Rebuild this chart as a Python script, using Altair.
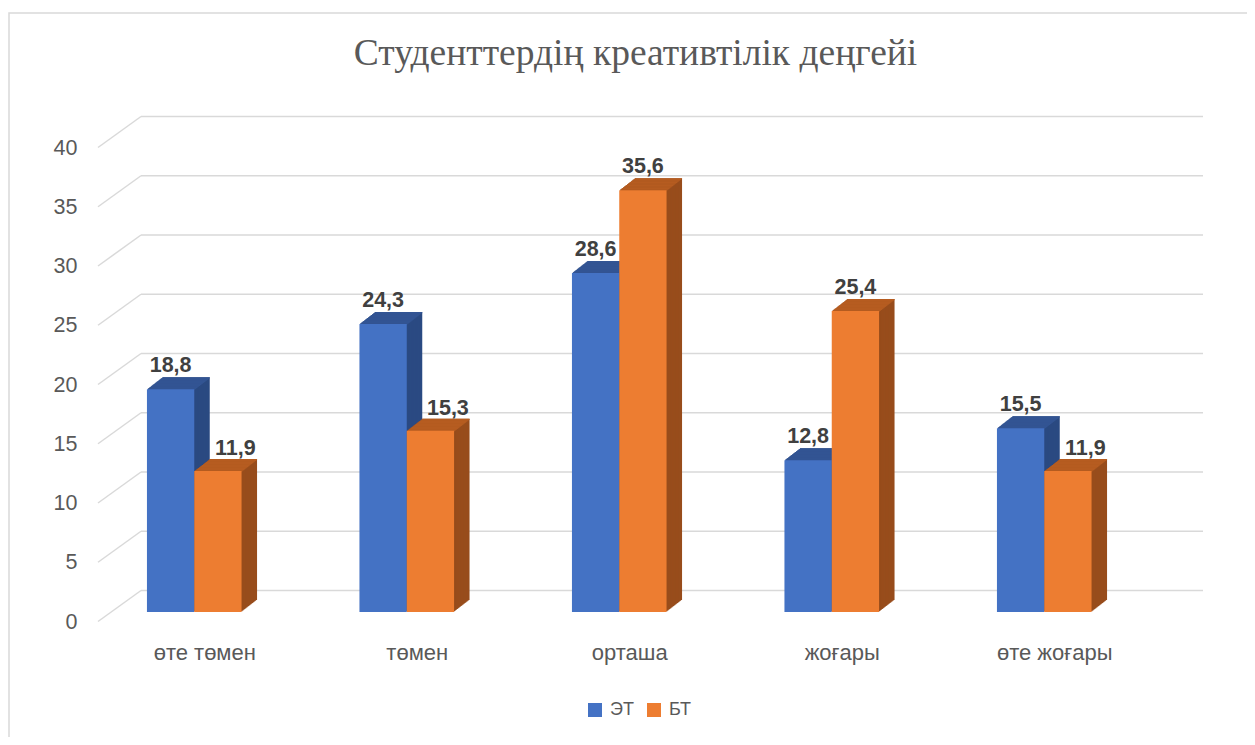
import altair as alt
import pandas as pd

CATEGORIES = ["өте төмен", "төмен", "орташа", "жоғары", "өте жоғары"]
ET = [18.8, 24.3, 28.6, 12.8, 15.5]
BT = [11.9, 15.3, 35.6, 25.4, 11.9]
SERIES = ["ЭТ", "БТ"]
Y_TICKS = [0, 5, 10, 15, 20, 25, 30, 35, 40]
TITLE = ["Студенттердің креативтілік деңгейі"]

BLUE, BLUE_TOP, BLUE_SIDE = "#4472C4", "#335593", "#2B4A82"
ORANGE, ORANGE_TOP, ORANGE_SIDE = "#ED7D31", "#B65D21", "#984D1C"
GRID = "#D9D9D9"
TXT = "#595959"
FONT = "Liberation Sans"

df = pd.DataFrame({"cat": CATEGORIES, "ET": ET, "BT": BT})
ticks = pd.DataFrame({"v": Y_TICKS})
title_df = pd.DataFrame({"t": TITLE})

W, H = 1062.5, 474
BAR = 47.3
DX, DY = 15.5, -12.0
N = 16

y_scale = alt.Scale(domain=[0, 40], nice=False, zero=True)
x_scale = alt.Scale(paddingInner=0, paddingOuter=0)
X_AX = alt.Axis(labelAngle=0, labelOffset=10.5, labelPadding=47, labelBaseline="alphabetic",
                ticks=False, tickSize=0, domain=False, grid=False, title=None,
                labelFont=FONT, labelFontSize=22, labelColor=TXT)
Y_AX = alt.Axis(values=Y_TICKS, labelOffset=10, labelPadding=11, ticks=False, tickSize=0, domain=False,
                grid=False, title=None, labelFont=FONT, labelFontSize=21.5, labelColor=TXT)


def X():
    return alt.X("cat:N", sort=CATEGORIES, scale=x_scale, axis=X_AX)


def Y(field):
    return alt.Y(f"{field}:Q", scale=y_scale, axis=Y_AX)


layers = []

# chart border
layers.append(
    alt.Chart(title_df).mark_rect(fillOpacity=0, stroke=GRID, strokeWidth=1.5).encode(
        x=alt.value(-79), x2=alt.value(1400), y=alt.value(-125), y2=alt.value(900)
    )
)

# back-wall gridlines
layers.append(
    alt.Chart(ticks).mark_rule(color=GRID, strokeWidth=1.5, yOffset=DY - 9.5).encode(
        y=Y("v"), x=alt.value(53), x2=alt.value(1115),
    )
)
# floor diagonals
layers.append(
    alt.Chart(ticks).mark_rule(color=GRID, strokeWidth=1.5, yOffset=9.5, y2Offset=DY - 9.5).encode(
        y=Y("v"), y2=alt.Y2("v:Q"), x=alt.value(10), x2=alt.value(53),
    )
)


def bar_layers(field, series, xoff, top, side):
    out = []
    for k in range(N, 0, -1):
        dx = xoff + DX * k / N
        dy = DY * k / N
        out.append(
            alt.Chart(df).mark_bar(color=side, size=BAR, xOffset=dx, x2Offset=dx, yOffset=dy, y2Offset=dy).encode(
                x=X(), y=Y(field)
            )
        )
    for k in range(N, 0, -1):
        dx = xoff + DX * k / N
        dy = DY * k / N
        out.append(
            alt.Chart(df).mark_bar(color=top, size=BAR, xOffset=dx, x2Offset=dx, yOffset=dy, y2Offset=dy + 1.2).encode(
                x=X(), y=Y(field), y2=alt.Y2(f"{field}:Q")
            )
        )
    out.append(
        alt.Chart(df).transform_calculate(series=f"'{series}'").mark_bar(size=BAR, xOffset=xoff, x2Offset=xoff, opacity=1).encode(
            x=X(),
            y=Y(field),
            color=alt.Color("series:N", scale=alt.Scale(domain=SERIES, range=[BLUE, ORANGE]),
                            legend=alt.Legend(orient="none", legendX=498, legendY=563, direction="horizontal",
                                              title=None, symbolType="square", symbolSize=196,
                                              symbolStrokeWidth=0, labelFont=FONT, labelFontSize=18,
                                              labelColor=TXT, labelOffset=6, columnPadding=11, padding=0)),
        )
    )
    return out


layers += bar_layers("ET", SERIES[0], -BAR / 2, BLUE_TOP, BLUE_SIDE)
layers += bar_layers("BT", SERIES[1], BAR / 2, ORANGE_TOP, ORANGE_SIDE)

lbl_style = dict(baseline="alphabetic", align="center", font=FONT, fontSize=21.5, fontWeight="bold", color="#404040")
layers.append(
    alt.Chart(df).transform_calculate(lbl="replace(format(datum.ET,'.1f'),'.',',')")
    .mark_text(xOffset=-BAR / 2, yOffset=-17, **lbl_style)
    .encode(x=X(), y=Y("ET"), text="lbl:N")
)
layers.append(
    alt.Chart(df).transform_filter("datum.BT >= datum.ET")
    .transform_calculate(lbl="replace(format(datum.BT,'.1f'),'.',',')")
    .mark_text(xOffset=BAR / 2, yOffset=-17, **lbl_style)
    .encode(x=X(), y=Y("BT"), text="lbl:N")
)
layers.append(
    alt.Chart(df).transform_filter("datum.BT < datum.ET")
    .transform_calculate(lbl="replace(format(datum.BT,'.1f'),'.',',')")
    .mark_text(xOffset=BAR / 2 + 17.5, yOffset=-16, **lbl_style)
    .encode(x=X(), y=Y("BT"), text="lbl:N")
)

# title
layers.append(
    alt.Chart(title_df).mark_text(font="Liberation Serif", fontSize=37.5, color=TXT, align="center",
                                  baseline="alphabetic").encode(
        x=alt.value(547.5), y=alt.value(-73), text="t:N"
    )
)

chart = (
    alt.layer(*layers)
    .properties(width=W, height=H, autosize="none",
                padding={"left": 80, "top": 130, "right": 96, "bottom": 125})
    .configure(background="white", view=alt.ViewConfig(stroke=None))
)

chart.save("out.html", embed_options={"renderer": "svg", "actions": False})
